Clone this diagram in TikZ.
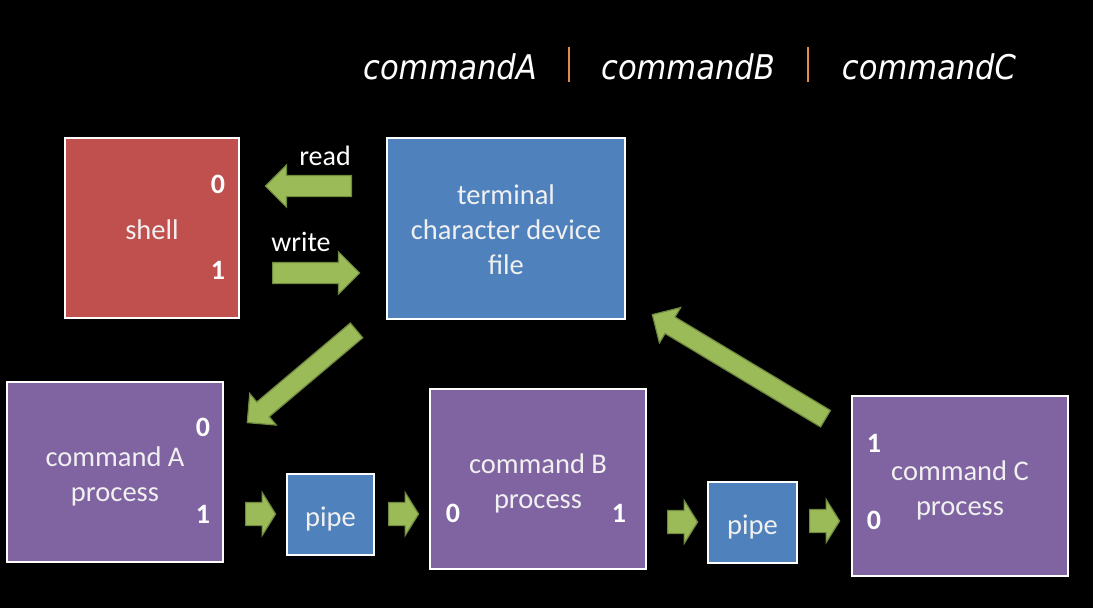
\documentclass[tikz,border=0pt]{standalone}
\usepackage{fontspec}
\setmainfont{Carlito}
\newfontfamily\titlefont{DejaVu Sans Condensed}
\usepackage{tikz}
\usetikzlibrary{shapes.arrows}
\definecolor{shellred}{RGB}{192, 80, 77}
\definecolor{termblue}{RGB}{79, 129, 189}
\definecolor{procpurple}{RGB}{128, 100, 162}
\definecolor{arrowgreen}{RGB}{155, 187, 89}
\definecolor{arrowedge}{RGB}{113, 137, 63}
\definecolor{barorange}{RGB}{228, 140, 70}

\tikzset{
    box/.style={draw=white, line width=2.5pt, inner sep=0pt},
    boxtext/.style={text=white!94!black, inner sep=0pt, align=center,
        font=\fontsize{28.5}{35}\selectfont},
    fdnum/.style={text=white, inner sep=0pt, font=\bfseries\fontsize{28}{30}\selectfont},
    iolabel/.style={text=white, inner sep=0pt, font=\fontsize{28}{30}\selectfont},
    cmdtitle/.style={text=white, inner sep=0pt, font=\titlefont\itshape\fontsize{34}{36}\selectfont},
    bigarrow/.style={single arrow, draw=arrowedge, fill=arrowgreen, line width=1.2pt,
        inner xsep=0pt, inner ysep=10pt, single arrow head extend=10.5pt,
        sloped, allow upside down, at start, anchor=tail},
    diagarrow/.style={bigarrow, inner ysep=9pt, single arrow head extend=11pt},
    smallarrow/.style={bigarrow, inner ysep=11pt, single arrow head extend=10pt,
        single arrow tip angle=116, minimum height=30pt},
}

\begin{document}
\begin{tikzpicture}[x=1pt, y=-1pt]
    \fill[black] (0, 0) rectangle (1093, 608);

    % command line
    \node[cmdtitle] (titA) at (450, 67) {commandA};
    \node[cmdtitle] (titB) at (688, 67) {commandB};
    \node[cmdtitle] (titC) at (929, 67) {commandC};
    \draw[barorange, line width=2pt] (569, 47) -- (569, 82);
    \draw[barorange, line width=2pt] (808, 47) -- (808, 82);

    % shell and terminal
    \node[box, fill=shellred, minimum width=174, minimum height=180] (shell) at (152, 228) {};
    \node[boxtext] (shelltxt) at (152, 230) {shell};
    \node[fdnum] (sh0) at (218, 184) {0};
    \node[fdnum] (sh1) at (218, 270) {1};
    \node[box, fill=termblue, minimum width=238, minimum height=181] (term) at (506, 228.5) {};
    \node[boxtext] (termtxt) at (506, 229.5) {terminal\\character device\\file};

    \node[iolabel] (rdlbl) at (325, 156) {read};
    \node[iolabel] (wrlbl) at (301, 242) {write};
    \coordinate (rdtail) at (352, 186);
    \coordinate (rdtip) at (266, 186);
    \coordinate (wrtail) at (272, 273);
    \coordinate (wrtip) at (359, 273);
    \path (rdtail) -- node[bigarrow, minimum height=86] (rdarrow) {} (rdtip);
    \path (wrtail) -- node[bigarrow, minimum height=87] (wrarrow) {} (wrtip);

    % processes and pipes
    \node[box, fill=procpurple, minimum width=216, minimum height=180] (cmdA) at (115, 472) {};
    \node[boxtext] (cmdAtxt) at (115, 476.5) {command A\\process};
    \node[fdnum] (a0) at (203, 427) {0};
    \node[fdnum] (a1) at (203, 514) {1};
    \node[box, fill=termblue, minimum width=87, minimum height=81] (pipe1) at (330.5, 514.5) {};
    \node[boxtext] (pipe1txt) at (330.5, 518.5) {pipe};
    \node[box, fill=procpurple, minimum width=216, minimum height=180] (cmdB) at (538, 479) {};
    \node[boxtext] (cmdBtxt) at (538, 483) {command B\\process};
    \node[fdnum] (b0) at (453, 513) {0};
    \node[fdnum] (b1) at (619, 513) {1};
    \node[box, fill=termblue, minimum width=89, minimum height=81] (pipe2) at (752.5, 522.5) {};
    \node[boxtext] (pipe2txt) at (752.5, 526.5) {pipe};
    \node[box, fill=procpurple, minimum width=216, minimum height=180] (cmdC) at (960, 486) {};
    \node[boxtext] (cmdCtxt) at (960, 490) {command C\\process};
    \node[fdnum] (c1) at (874, 443) {1};
    \node[fdnum] (c0) at (874, 520) {0};

    % data flow
    \coordinate (intail) at (357, 330);
    \coordinate (intip) at (248, 422);
    \coordinate (outtail) at (826, 419);
    \coordinate (outtip) at (653, 315);
    \path (intail) -- node[diagarrow, minimum height=143] (inarrow) {} (intip);
    \path (outtail) -- node[diagarrow, minimum height=202] (outarrow) {} (outtip);

    \coordinate (p1tail) at (245, 514);
    \coordinate (p1tip) at (275, 514);
    \coordinate (p2tail) at (388, 514);
    \coordinate (p2tip) at (418, 514);
    \coordinate (p3tail) at (667, 522);
    \coordinate (p3tip) at (697, 522);
    \coordinate (p4tail) at (809, 521);
    \coordinate (p4tip) at (840, 521);
    \path (p1tail) -- node[smallarrow] (p1arrow) {} (p1tip);
    \path (p2tail) -- node[smallarrow] (p2arrow) {} (p2tip);
    \path (p3tail) -- node[smallarrow] (p3arrow) {} (p3tip);
    \path (p4tail) -- node[smallarrow] (p4arrow) {} (p4tip);
\end{tikzpicture}
\end{document}
